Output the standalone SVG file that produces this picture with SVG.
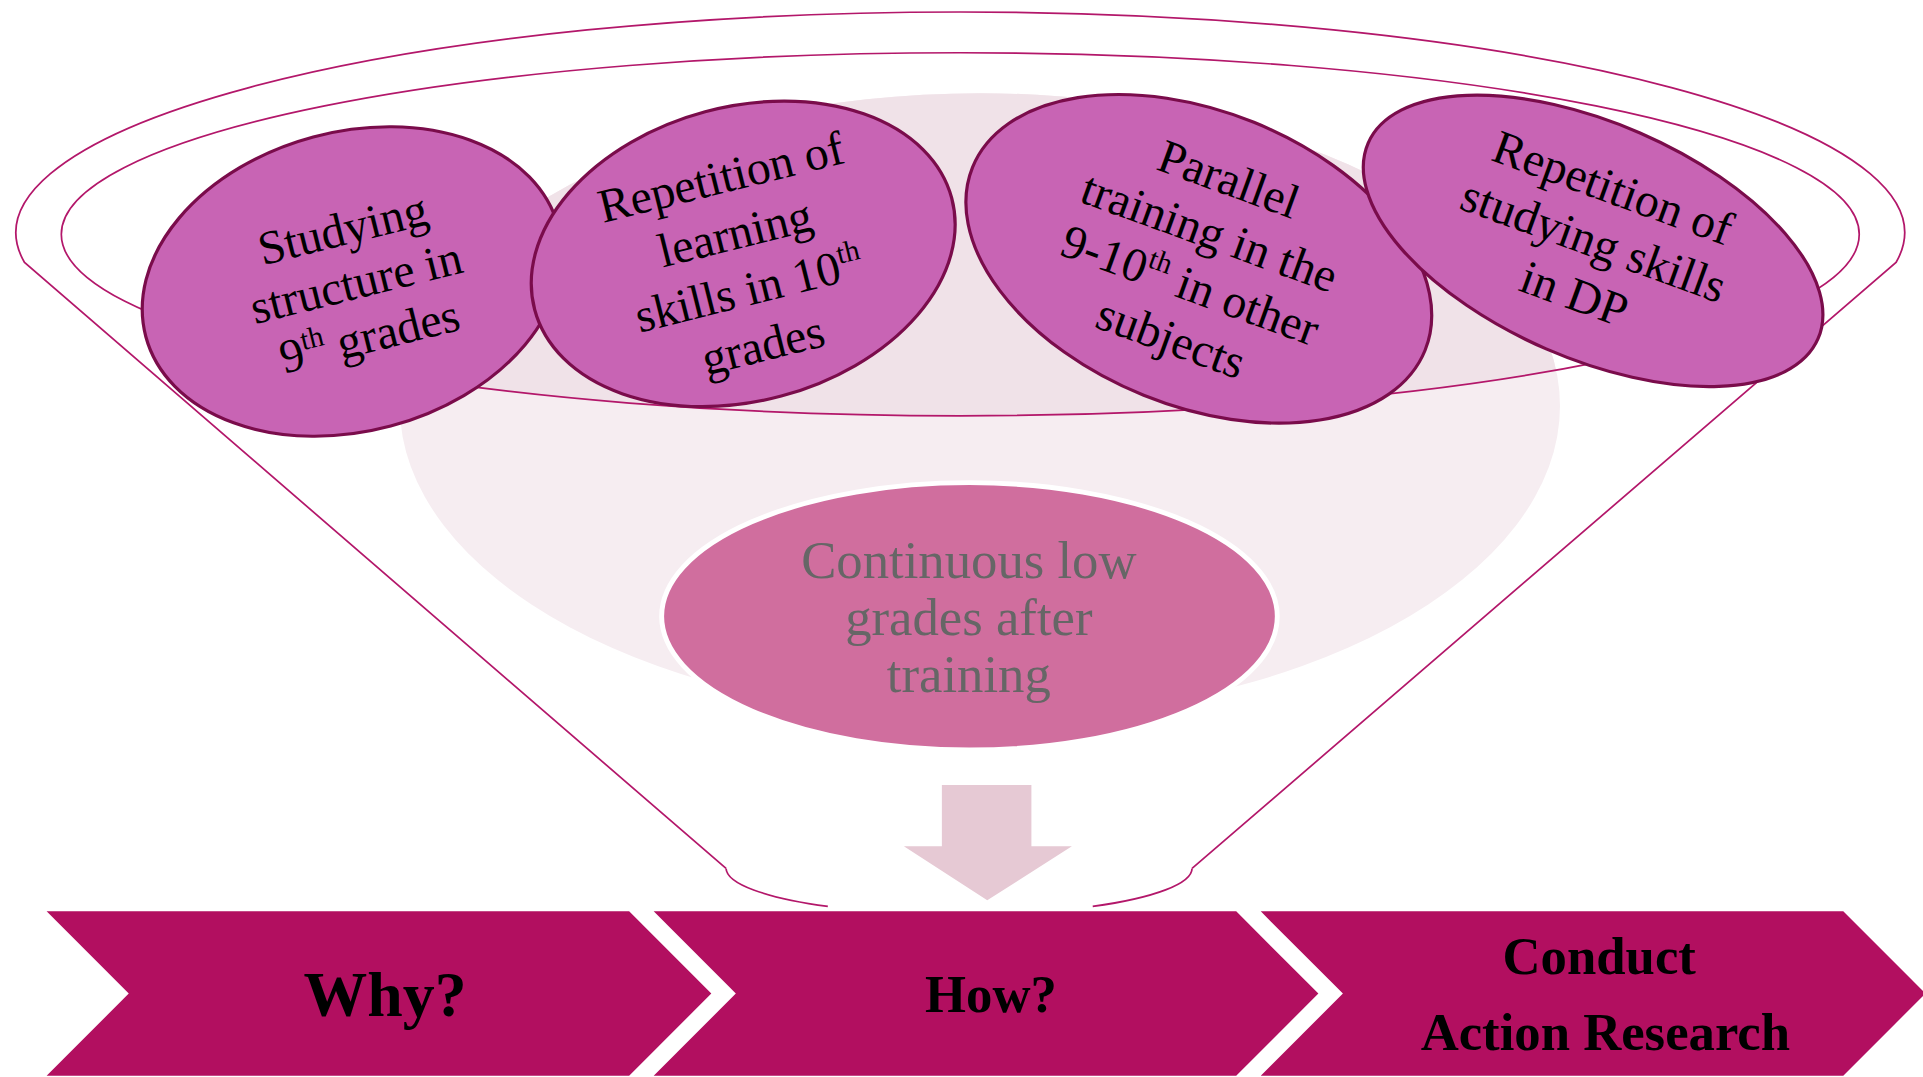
<svg xmlns="http://www.w3.org/2000/svg" width="1923" height="1077" viewBox="0 0 1923 1077">
<defs>
<style>
.rim{fill:none;stroke:#b3176a;stroke-width:1.4}
.bub{fill:#c864b4;stroke:#7a0c4b;stroke-width:2.6}
.bt{font-family:"Liberation Serif","Times New Roman",serif;font-size:39px;fill:#000;text-anchor:middle}
.sup{font-size:24px}
.chev{fill:#b20f60}
.ct{font-family:"Liberation Serif","Times New Roman",serif;font-weight:bold;fill:#000;text-anchor:middle}
.mt{font-family:"Liberation Serif","Times New Roman",serif;font-size:43px;fill:#666666;text-anchor:middle}
</style>
<clipPath id="innerClip"><ellipse cx="783" cy="191" rx="733" ry="148"/></clipPath>
</defs>
<rect width="1923" height="1077" fill="#ffffff"/>
<g transform="scale(1.2264,1.2266)">
 <g id="background">
  <ellipse cx="799" cy="331" rx="473" ry="255" fill="#f6edf1"/>
  <ellipse cx="799" cy="331" rx="473" ry="255" fill="#f0e2e8" clip-path="url(#innerClip)"/>
 </g>
 <g id="funnel">
  <path class="rim" d="M592,708 L20,214 A770,180 0 1 1 1546,214 L972,708"/>
  <path class="rim" d="M592,708 A190,38 0 0 0 675,739"/>
  <path class="rim" d="M972,708 A190,38 0 0 1 891,739"/>
  <ellipse class="rim" cx="783" cy="191" rx="733" ry="148"/>
 </g>
 <g id="node1">
  <ellipse class="bub" cx="287" cy="229.5" rx="174" ry="122" transform="rotate(-15 287 229.5)"/>
  <text class="bt" transform="translate(293.5,243) rotate(-14)"><tspan x="0" y="-45">Studying</tspan><tspan x="0" y="0">structure in</tspan><tspan x="0" y="45">9<tspan class="sup" dy="-15">th</tspan><tspan dy="15"> grades</tspan></tspan></text>
 </g>
 <g id="node2">
  <ellipse class="bub" cx="606" cy="207" rx="176" ry="120" transform="rotate(-15 606 207)"/>
  <text class="bt" transform="translate(608,225) rotate(-14)"><tspan x="0" y="-70">Repetition of</tspan><tspan x="0" y="-23">learning</tspan><tspan x="0" y="24">skills in 10<tspan class="sup" dy="-15">th</tspan></tspan><tspan x="0" y="71">grades</tspan></text>
 </g>
 <g id="node3">
  <ellipse class="bub" cx="977.5" cy="211" rx="199" ry="120" transform="rotate(22 977.5 211)"/>
  <text class="bt" transform="translate(974,223) rotate(20)"><tspan x="0" y="-69">Parallel</tspan><tspan x="0" y="-23">training in the</tspan><tspan x="0" y="23">9-10<tspan class="sup" dy="-15">th</tspan><tspan dy="15"> in other</tspan></tspan><tspan x="0" y="69">subjects</tspan></text>
 </g>
 <g id="node4">
  <ellipse class="bub" cx="1299" cy="196.4" rx="200" ry="96" transform="rotate(23.5 1299 196.4)"/>
  <text class="bt" transform="translate(1295,208.5) rotate(20)"><tspan x="0" y="-46">Repetition of</tspan><tspan x="0" y="0">studying skills</tspan><tspan x="0" y="46">in DP</tspan></text>
 </g>
 <g id="node5">
  <ellipse cx="790.5" cy="502.5" rx="251" ry="109" fill="#d06e9e" stroke="#ffffff" stroke-width="4"/>
  <text class="mt"><tspan x="790" y="471">Continuous low</tspan><tspan x="790" y="517.5">grades after</tspan><tspan x="790" y="564">training</tspan></text>
 </g>
 <g id="connectors">
  <polygon points="768,640 841,640 841,690 874,690 805,734 737,690 768,690" fill="#e6c9d4"/>
 </g>
 <g id="step1">
  <polygon class="chev" points="38,743 513,743 580,810 513,877 38,877 105,810"/>
  <text class="ct" x="314" y="828" font-size="52">Why?</text>
 </g>
 <g id="step2">
  <polygon class="chev" points="533,743 1008,743 1075,810 1008,877 533,877 600,810"/>
  <text class="ct" x="808" y="825" font-size="43">How?</text>
 </g>
 <g id="step3">
  <polygon class="chev" points="1028,743 1503,743 1570,810 1503,877 1028,877 1095,810"/>
  <text class="ct" font-size="43"><tspan x="1304" y="794">Conduct</tspan><tspan x="1309" y="856">Action Research</tspan></text>
 </g>
</g>
</svg>
